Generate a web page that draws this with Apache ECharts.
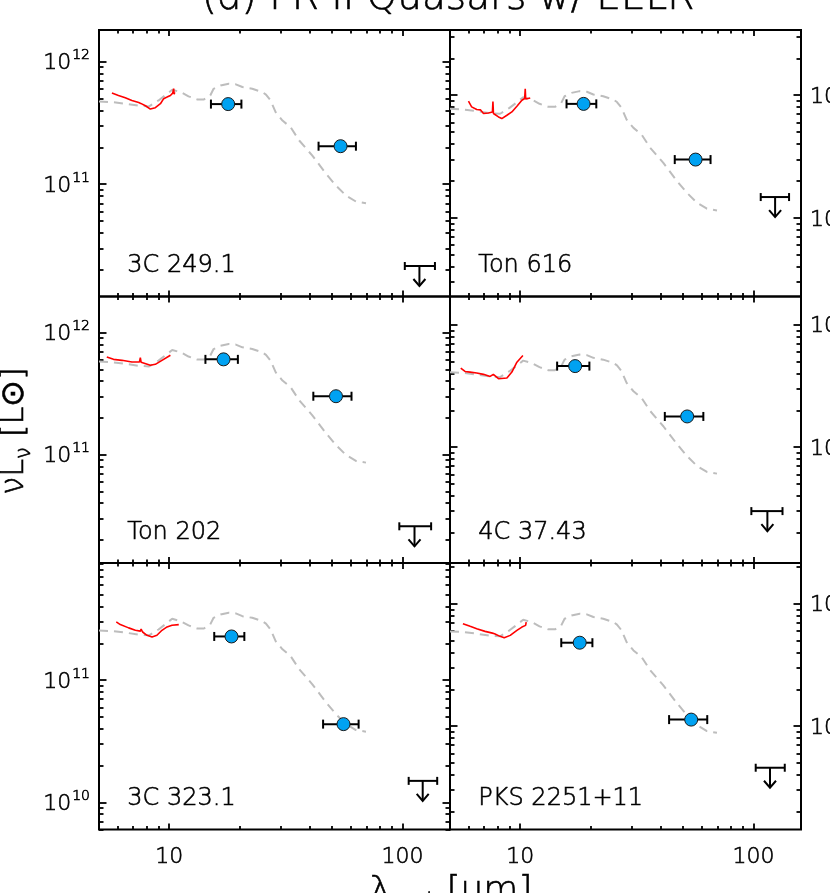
<!DOCTYPE html>
<html>
<head>
<meta charset="utf-8">
<script src="https://cdn.jsdelivr.net/npm/echarts@6/dist/echarts.min.js"></script>
<style>
  html, body { margin: 0; padding: 0; background: #fff; }
  #chart { width: 830px; height: 893px; }
</style>
</head>
<body>
<div id="chart"></div>
<script>
// panels, left to right, top to bottom
const panelNames = ['3C 249.1', 'Ton 616', 'Ton 202', '4C 37.43', '3C 323.1', 'PKS 2251+11'];

// wavelength range and y range of each panel
const xMin = 5;
const xMax = 160;
const yMin = [1.22e10, 2.29e10, 1.29e10, 1.13e10, 6.0e9, 1.43e10];
const yMax = [1.80e12, 3.40e12, 1.98e12, 1.70e12, 9.1e11, 2.15e12];

// tick values
const xMajorTicks = [10, 100];
const xMinorTicks = [6, 7, 8, 9, 20, 30, 40, 50, 60, 70, 80, 90];
const yMajorTicks = [1e9, 1e10, 1e11, 1e12, 1e13];
const yMinorTicks = [
  2e9, 3e9, 4e9, 5e9, 6e9, 7e9, 8e9, 9e9,
  2e10, 3e10, 4e10, 5e10, 6e10, 7e10, 8e10, 9e10,
  2e11, 3e11, 4e11, 5e11, 6e11, 7e11, 8e11, 9e11,
  2e12, 3e12, 4e12, 5e12, 6e12, 7e12, 8e12, 9e12
];

// quasar template (grey dashed), wavelength in micron
const templateWave = [5.0, 5.7, 6.5, 7.4, 8.2, 9.0, 9.6, 10.3, 11.2, 12.1, 13.2, 14.1, 15.0, 15.5, 16.6, 18.0,
  19.3, 20.6, 22.7, 25.1, 26.0, 27.2, 28.6, 30.6, 33.2, 36.1, 41.1, 47.0, 51.9, 57.3, 63.2, 69.8];
const tmpl3C2491 = [4.72e11, 4.66e11, 4.52e11, 4.36e11, 4.30e11, 4.81e11, 5.28e11, 5.87e11, 5.62e11, 5.19e11, 4.90e11, 4.90e11,
  5.28e11, 5.98e11, 6.37e11, 6.58e11, 6.50e11, 6.18e11, 5.98e11, 5.62e11, 5.36e11, 4.81e11, 3.86e11, 3.30e11, 2.90e11, 2.27e11,
  1.71e11, 1.22e11, 9.75e10, 8.09e10, 7.23e10, 7.00e10];
const tmplTon616 = [7.75e11, 7.65e11, 7.42e11, 7.15e11, 7.06e11, 7.89e11, 8.66e11, 9.63e11, 9.22e11, 8.52e11, 8.04e11, 8.04e11,
  8.66e11, 9.81e11, 1.045e12, 1.080e12, 1.067e12, 1.014e12, 9.81e11, 9.22e11, 8.80e11, 7.89e11, 6.33e11, 5.42e11, 4.76e11, 3.73e11,
  2.81e11, 2.00e11, 1.60e11, 1.33e11, 1.19e11, 1.15e11];
const tmplTon202 = [5.79e11, 5.72e11, 5.55e11, 5.35e11, 5.28e11, 5.90e11, 6.48e11, 7.20e11, 6.90e11, 6.37e11, 6.01e11, 6.01e11,
  6.48e11, 7.34e11, 7.82e11, 8.07e11, 7.98e11, 7.58e11, 7.34e11, 6.90e11, 6.58e11, 5.90e11, 4.74e11, 4.05e11, 3.56e11, 2.79e11,
  2.10e11, 1.50e11, 1.196e11, 9.93e10, 8.87e10, 8.59e10];
const tmpl4C3743 = [4.09e11, 4.04e11, 3.92e11, 3.78e11, 3.73e11, 4.17e11, 4.58e11, 5.09e11, 4.87e11, 4.50e11, 4.25e11, 4.25e11,
  4.58e11, 5.18e11, 5.52e11, 5.70e11, 5.64e11, 5.36e11, 5.18e11, 4.87e11, 4.65e11, 4.17e11, 3.35e11, 2.86e11, 2.51e11, 1.97e11,
  1.48e11, 1.06e11, 8.45e10, 7.01e10, 6.27e10, 6.07e10];
const tmpl3C3231 = [2.55e11, 2.52e11, 2.45e11, 2.36e11, 2.33e11, 2.60e11, 2.86e11, 3.18e11, 3.04e11, 2.81e11, 2.65e11, 2.65e11,
  2.86e11, 3.24e11, 3.45e11, 3.56e11, 3.52e11, 3.34e11, 3.24e11, 3.04e11, 2.90e11, 2.60e11, 2.09e11, 1.79e11, 1.57e11, 1.23e11,
  9.25e10, 6.60e10, 5.27e10, 4.38e10, 3.91e10, 3.79e10];
const tmplPKS2251 = [5.94e11, 5.87e11, 5.69e11, 5.49e11, 5.41e11, 6.06e11, 6.65e11, 7.39e11, 7.08e11, 6.53e11, 6.17e11, 6.17e11,
  6.65e11, 7.53e11, 8.02e11, 8.28e11, 8.18e11, 7.78e11, 7.53e11, 7.08e11, 6.75e11, 6.06e11, 4.86e11, 4.15e11, 3.65e11, 2.86e11,
  2.15e11, 1.54e11, 1.23e11, 1.02e11, 9.10e10, 8.81e10];
const templates = [tmpl3C2491, tmplTon616, tmplTon202, tmpl4C3743, tmpl3C3231, tmplPKS2251];

// IRS spectra (red), [wavelength, nuLnu]
const spec3C2491 = [[5.68, 5.52e11], [6.06, 5.28e11], [6.48, 5.06e11], [6.92, 4.81e11], [7.40, 4.62e11], [7.50, 4.75e11],
  [7.55, 4.55e11], [7.91, 4.35e11], [8.30, 4.09e11], [8.72, 4.20e11], [9.17, 4.52e11], [9.47, 4.97e11], [9.79, 5.12e11],
  [10.12, 5.28e11], [10.35, 5.52e11], [10.45, 6.00e11], [10.50, 5.40e11], [10.56, 5.60e11]];
const specTon616 = [[6.00, 8.94e11], [6.19, 8.04e11], [6.51, 7.64e11], [6.75, 7.60e11], [6.96, 7.10e11], [7.31, 7.17e11],
  [7.60, 7.31e11], [7.64, 8.90e11], [7.68, 7.10e11], [8.07, 6.65e11], [8.34, 6.45e11], [8.77, 6.87e11], [9.21, 7.31e11],
  [9.68, 8.13e11], [10.17, 9.10e11], [10.45, 9.40e11], [10.51, 1.13e12], [10.56, 9.30e11], [11.04, 9.51e11]];
const specTon202 = [[5.40, 6.31e11], [5.77, 6.04e11], [6.27, 5.93e11], [6.92, 5.74e11], [7.45, 5.74e11], [7.52, 6.25e11],
  [7.58, 5.71e11], [8.30, 5.40e11], [8.72, 5.50e11], [9.31, 5.93e11], [10.12, 6.52e11]];
const spec4C3743 = [[5.56, 4.42e11], [5.80, 4.15e11], [6.10, 4.10e11], [6.51, 4.03e11], [6.96, 3.93e11], [7.43, 3.78e11],
  [7.67, 3.93e11], [8.07, 3.62e11], [8.77, 3.67e11], [9.21, 4.10e11], [9.68, 4.94e11], [10.27, 5.61e11]];
const spec3C3231 = [[5.93, 3.00e11], [6.17, 2.85e11], [6.70, 2.68e11], [7.16, 2.56e11], [7.52, 2.52e11], [7.58, 2.62e11],
  [7.69, 2.48e11], [8.03, 2.33e11], [8.44, 2.26e11], [8.86, 2.33e11], [9.31, 2.56e11], [9.79, 2.73e11], [10.28, 2.82e11],
  [10.99, 2.85e11]];
const specPKS2251 = [[5.68, 6.87e11], [6.10, 6.53e11], [6.51, 6.25e11], [7.07, 5.94e11], [7.60, 5.75e11], [7.64, 5.97e11],
  [7.76, 5.69e11], [8.20, 5.41e11], [8.54, 5.27e11], [9.06, 5.51e11], [9.68, 6.05e11], [10.17, 6.44e11], [10.55, 6.65e11],
  [10.61, 7.08e11]];
const spectra = [spec3C2491, specTon616, specTon202, spec4C3743, spec3C3231, specPKS2251];

// photometry (blue points) with wavelength ranges
const photWave = [[17.9, 54.3], [18.7, 56.5], [17.1, 51.9], [17.2, 52.0], [18.5, 55.9], [18.0, 54.1]];
const photLo = [[15.1, 43.7], [15.8, 46.0], [14.3, 41.5], [14.4, 41.7], [15.6, 45.7], [15.0, 43.5]];
const photHi = [[20.4, 63.2], [21.2, 65.5], [19.7, 60.5], [19.8, 61.0], [21.0, 64.9], [20.4, 63.4]];
const photLum = [[4.49e11, 2.04e11], [8.5e11, 2.99e11], [6.04e11, 3.01e11], [4.59e11, 1.78e11], [2.28e11, 4.37e10], [4.80e11, 1.13e11]];

// upper limits
const ulWave = [118.3, 123.9, 112.7, 114.8, 122.2, 117.8];
const ulLo = [102.4, 107.5, 97.0, 98.0, 106.4, 102.3];
const ulHi = [137.9, 142.2, 132.8, 133.3, 141.0, 136.3];
const ulLum = [2.16e10, 1.48e11, 2.58e10, 3.0e10, 1.50e10, 4.57e10];

const FONT = '"DejaVu Sans", sans-serif';
const WEIGHT = 200;
const INK = '#000';
const EDGE = 0.6; // slight outline so the light face reads a bit heavier

const gridLeft = [99, 450];
const gridTop = [30, 296.5, 563];
const gridW = 351;
const gridH = 266.5;

const chart = echarts.init(document.getElementById('chart'), null, { renderer: 'canvas' });

const tickStyle = { color: '#000', width: 1.8 };
const labelFont = { fontFamily: FONT, fontWeight: WEIGHT, color: INK, textBorderColor: INK, textBorderWidth: EDGE };
const textFont = { fontFamily: FONT, fontWeight: WEIGHT, fill: INK, stroke: INK, lineWidth: EDGE };

const renderErrorBar = (params, api) => {
  const a = api.coord([api.value(0), api.value(2)]);
  const b = api.coord([api.value(1), api.value(2)]);
  const cap = 4.5;
  const st = { stroke: '#000', lineWidth: 2 };
  return {
    type: 'group',
    children: [
      { type: 'line', shape: { x1: a[0], y1: a[1], x2: b[0], y2: b[1] }, style: st },
      { type: 'line', shape: { x1: a[0], y1: a[1] - cap, x2: a[0], y2: a[1] + cap }, style: st },
      { type: 'line', shape: { x1: b[0], y1: b[1] - cap, x2: b[0], y2: b[1] + cap }, style: st }
    ]
  };
};

const renderLimit = (params, api) => {
  const a = api.coord([api.value(0), api.value(3)]);
  const b = api.coord([api.value(1), api.value(3)]);
  const c = api.coord([api.value(2), api.value(3)]);
  const cap = 4, drop = 20, head = 6;
  const st = { stroke: '#000', lineWidth: 2, fill: null };
  return {
    type: 'group',
    children: [
      { type: 'line', shape: { x1: a[0], y1: a[1], x2: b[0], y2: b[1] }, style: st },
      { type: 'line', shape: { x1: a[0], y1: a[1] - cap, x2: a[0], y2: a[1] + cap }, style: st },
      { type: 'line', shape: { x1: b[0], y1: b[1] - cap, x2: b[0], y2: b[1] + cap }, style: st },
      { type: 'line', shape: { x1: c[0], y1: c[1], x2: c[0], y2: c[1] + drop }, style: st },
      {
        type: 'polyline',
        shape: { points: [[c[0] - head, c[1] + drop - head - 1], [c[0], c[1] + drop], [c[0] + head, c[1] + drop - head - 1]] },
        style: st
      }
    ]
  };
};

const option = {
  animation: false,
  grid: [],
  xAxis: [],
  yAxis: [],
  series: [],
  graphic: []
};

for (let i = 0; i < 6; i++) {
  const col = i % 2;
  const row = Math.floor(i / 2);

  option.grid.push({
    left: gridLeft[col], top: gridTop[row], width: gridW, height: gridH,
    containLabel: false, outerBoundsMode: 'none',
    show: true, borderColor: '#000', borderWidth: 2
  });

  const xBase = {
    type: 'log', logBase: 10, min: xMin, max: xMax, gridIndex: i,
    axisLine: { show: false }, splitLine: { show: false }
  };
  ['bottom', 'top'].forEach((pos) => {
    option.xAxis.push({
      ...xBase, position: pos,
      axisTick: { inside: true, length: 6, lineStyle: tickStyle, customValues: xMajorTicks },
      axisLabel: {
        show: pos === 'bottom' && row === 2, customValues: xMajorTicks, margin: 17,
        fontSize: 22, ...labelFont
      }
    });
    option.xAxis.push({
      ...xBase, position: pos,
      axisTick: { inside: true, length: 3.5, lineStyle: tickStyle, customValues: xMinorTicks },
      axisLabel: { show: false }
    });
  });

  const majors = yMajorTicks.filter((v) => v >= yMin[i] && v <= yMax[i]);
  const minors = yMinorTicks.filter((v) => v >= yMin[i] && v <= yMax[i]);
  const yBase = {
    type: 'log', logBase: 10, min: yMin[i], max: yMax[i], gridIndex: i,
    axisLine: { show: false }, splitLine: { show: false }
  };
  ['left', 'right'].forEach((pos) => {
    option.yAxis.push({
      ...yBase, position: pos,
      axisTick: { inside: true, length: 7.5, lineStyle: tickStyle, customValues: majors },
      axisLabel: {
        show: (pos === 'left') === (col === 0), customValues: majors, margin: 9,
        formatter: (v) => '{b|10}{s|' + Math.round(Math.log10(v)) + '}',
        rich: {
          b: { fontSize: 22, ...labelFont, lineHeight: 26, verticalAlign: 'bottom' },
          s: { fontSize: 14, ...labelFont, lineHeight: 14, verticalAlign: 'top', padding: [0, 0, 0, 1] }
        }
      }
    });
    option.yAxis.push({
      ...yBase, position: pos,
      axisTick: { inside: true, length: 4.5, lineStyle: tickStyle, customValues: minors },
      axisLabel: { show: false }
    });
  });

  const xi = 4 * i;
  const yi = 4 * i;
  option.series.push(
    {
      type: 'line', xAxisIndex: xi, yAxisIndex: yi, silent: true,
      data: templateWave.map((w, k) => [w, templates[i][k]]),
      symbol: 'none', z: 2,
      lineStyle: { color: '#bdbdbd', width: 2, type: [9, 6] }
    },
    {
      type: 'line', xAxisIndex: xi, yAxisIndex: yi, silent: true,
      data: spectra[i], symbol: 'none', z: 3,
      lineStyle: { color: '#ff0000', width: 1.6 }
    },
    {
      type: 'custom', xAxisIndex: xi, yAxisIndex: yi, silent: true, z: 4,
      data: photLo[i].map((lo, k) => [lo, photHi[i][k], photLum[i][k]]),
      encode: { x: [0, 1], y: 2 },
      renderItem: renderErrorBar
    },
    {
      type: 'scatter', xAxisIndex: xi, yAxisIndex: yi, silent: true, z: 5,
      data: photWave[i].map((w, k) => [w, photLum[i][k]]),
      symbolSize: 13,
      itemStyle: { color: '#00a2f2', borderColor: '#1a1a1a', borderWidth: 1, opacity: 1 }
    },
    {
      type: 'custom', xAxisIndex: xi, yAxisIndex: yi, silent: true, z: 4,
      data: [[ulLo[i], ulHi[i], ulWave[i], ulLum[i]]],
      encode: { x: [0, 1, 2], y: 3 },
      renderItem: renderLimit
    }
  );

  option.graphic.push({
    type: 'text', left: gridLeft[col] + 28, top: gridTop[row] + gridH - 43, z: 10,
    style: { text: panelNames[i], fontSize: 24, ...textFont }
  });
}

// title (cut off at the top in the original)
option.graphic.push({
  type: 'text', x: 448, y: -1, z: 10,
  style: {
    text: '(d) FR II Quasars w/ EELR', fontSize: 39, ...textFont,
    align: 'center', verticalAlign: 'middle'
  }
});

// x axis title
option.graphic.push({
  type: 'text', x: 451, y: 874, z: 10,
  style: {
    text: '{m|λ}{s|rest}{m| [μm]}', align: 'center', verticalAlign: 'top',
    rich: {
      m: { fontSize: 36, ...textFont, lineHeight: 40, verticalAlign: 'top' },
      s: { fontSize: 23, ...textFont, lineHeight: 24, padding: [22, 0, 0, 0], verticalAlign: 'bottom' }
    }
  }
});

// y axis title
option.graphic.push({
  type: 'text', x: 17, y: 431, rotation: Math.PI / 2, z: 10,
  style: {
    text: '{m|νL}{s|ν}{m| [L⊙]}', align: 'center', verticalAlign: 'middle',
    rich: {
      m: { fontSize: 32, ...textFont, lineHeight: 36, verticalAlign: 'top' },
      s: { fontSize: 21, ...textFont, lineHeight: 22, padding: [18, 0, 0, 0], verticalAlign: 'bottom' }
    }
  }
});

chart.setOption(option);
</script>
</body>
</html>
